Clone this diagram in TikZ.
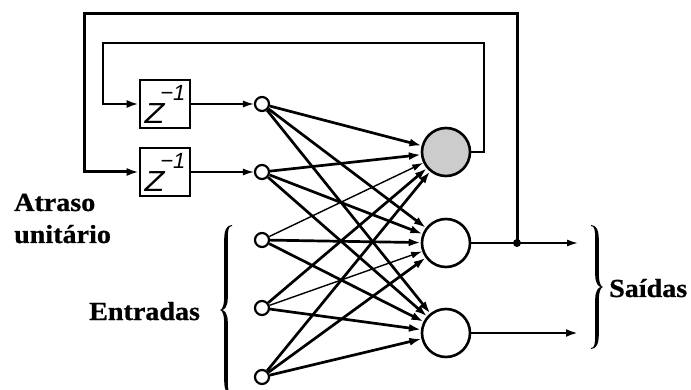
\documentclass[tikz,border=0pt]{standalone}
\usepackage{fontspec}
\setmainfont{Liberation Serif}
\newfontfamily\helv{Liberation Sans}
\newfontfamily\lblfont[FakeStretch=1.08,FakeBold=0.8]{Liberation Serif}
\usetikzlibrary{arrows.meta}
\newcommand{\zinv}{\scalebox{1.12}[1]{\fontsize{29}{29}\selectfont Z}\kern-4pt\raisebox{23pt}{\fontsize{22}{22}\selectfont −1}}
\newcommand{\tallbrace}[1]{%
 \fill (12,0) .. controls (7,0) and (4.2,5) .. (4.2,14) -- (4.2,{#1/2-14})
  .. controls (4.2,{#1/2-4}) and (2,{#1/2}) .. (0,{#1/2})
  .. controls (2,{#1/2}) and (4.2,{#1/2+4}) .. (4.2,{#1/2+14}) -- (4.2,{#1-14})
  .. controls (4.2,{#1-5}) and (7,#1) .. (12,#1) -- (12,{#1-1})
  .. controls (8.5,{#1-1}) and (7.8,{#1-5}) .. (7.8,{#1-14}) -- (7.8,{#1/2+12})
  .. controls (7.8,{#1/2+3}) and (4,{#1/2}) .. (1.8,{#1/2})
  .. controls (4,{#1/2}) and (7.8,{#1/2-3}) .. (7.8,{#1/2-12}) -- (7.8,14)
  .. controls (7.8,5) and (8.5,1) .. (12,1) -- cycle;}
\begin{document}
\begin{tikzpicture}[x=1pt,y=-1pt,
  inp/.style={circle,draw,line width=2.2pt,minimum size=14pt,inner sep=0pt},
  neu/.style={circle,draw,line width=2.6pt,minimum size=48pt,inner sep=0pt},
  zbox/.style={draw,line width=2.6pt,minimum width=50pt,minimum height=48pt,inner sep=0pt},
  fatlink/.style={line width=2.7pt,-{Latex[length=12pt,width=8pt]}},
  slimlink/.style={line width=1.4pt,-{Latex[length=11pt,width=7pt]}},
  outerloop/.style={line width=3pt},
  innerloop/.style={line width=2.3pt},
  lbl/.style={font=\lblfont\bfseries\fontsize{26}{28}\selectfont,inner sep=0pt,anchor=base west},
  ztext/.style={font=\helv\itshape}
]
\useasboundingbox (0,0) rectangle (691,390);

% delay boxes
\node[zbox,ztext] (z1) at (165,104) {\zinv};
\node[zbox,ztext] (z2) at (165,172) {\zinv};

% input nodes
\node[inp] (i1) at (262,104) {};
\node[inp] (i2) at (262,172) {};
\node[inp] (i3) at (262,240) {};
\node[inp] (i4) at (262,308) {};
\node[inp] (i5) at (262,377) {};

% neurons
\node[neu,fill=black!20] (n1) at (446,152) {};
\node[neu] (n2) at (446,243) {};
\node[neu] (n3) at (446,333) {};

% output ends
\coordinate (o2) at (578,243);
\coordinate (o3) at (578,333);
\node[circle,fill,inner sep=0pt,minimum size=8pt] (dot) at (517,243) {};

% delay to input
\draw[slimlink] (z1) -- (i1);
\draw[slimlink] (z2) -- (i2);

% full connections
\foreach \i in {1,...,5}{
  \foreach \n in {1,2,3}{
    \ifnum\i\n=31
      \draw[slimlink] (i\i) -- (n\n);
    \else\ifnum\i\n=42
      \draw[slimlink] (i\i) -- (n\n);
    \else
      \draw[fatlink] (i\i) -- (n\n);
    \fi\fi
  }
}

% outputs
\draw[line width=1.6pt,-{Latex[length=11pt,width=7pt]}] (n2) -- (o2);
\draw[line width=2.6pt,-{Latex[length=12pt,width=8pt]}] (n3) -- (o3);

% feedback loops
\draw[outerloop,-{Latex[length=12pt,width=8pt]}] (dot.center) -- (517,14) -- (84,14) -- (84,172) -- (z2.west);
\draw[innerloop,-{Latex[length=12pt,width=8pt]}] (n1.east) -- (484,152) -- (484,43) -- (103,43) -- (103,104) -- (z1.west);

% braces
\begin{scope}[shift={(220,225)}]
  \tallbrace{170}
\end{scope}
\begin{scope}[shift={(603,225)},xscale=-1]
  \tallbrace{124}
\end{scope}

% labels
\node[lbl] (atraso) at (14,211) {Atraso};
\node[lbl] (unit) at (14,243) {unitário};
\node[lbl] (entr) at (89,320) {Entradas};
\node[lbl] (said) at (609,297) {Saídas};
\end{tikzpicture}
\end{document}
